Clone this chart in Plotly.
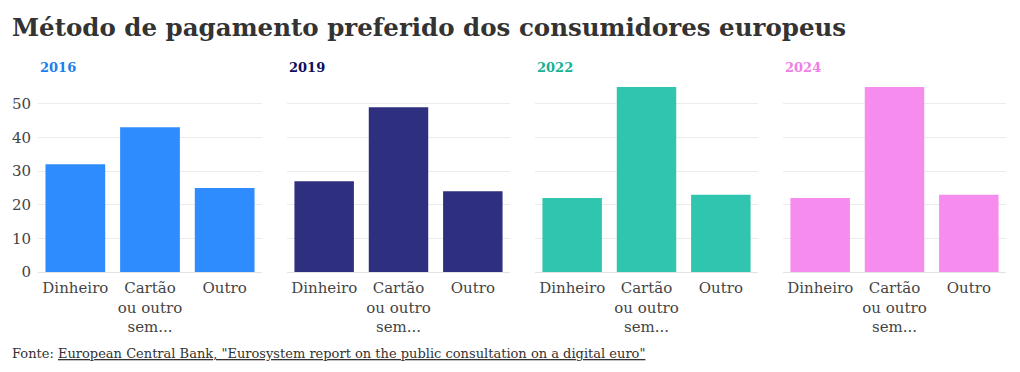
import plotly.graph_objects as go

categories = ["Dinheiro", "Cartão<br>ou outro<br>sem...", "Outro"]
years = ["2016", "2019", "2022", "2024"]
values_2016 = [32, 43, 25]
values_2019 = [27, 49, 24]
values_2022 = [22, 55, 23]
values_2024 = [22, 55, 23]
series = [values_2016, values_2019, values_2022, values_2024]
bar_colors = ["#2f8cff", "#2f2f80", "#2fc5ae", "#f58cee"]
title_colors = ["#1a7fef", "#0d0d5c", "#16b294", "#f07ee6"]
y_ticks = [0, 10, 20, 30, 40, 50]

FONT = "DejaVu Serif"
OX, OY = 8, 8  # page body margin offset
W, H = 1020, 372
domains_px = [(38, 262), (287, 510), (535, 758), (783, 1006)]
plot_top, plot_bottom = 87, 272


def px_x(v):
    return (v - OX) / W


def px_y(v):
    return 1 - (v - OY) / H


fig = go.Figure()
layout_axes = {}
for i, (yr, vals) in enumerate(zip(years, series)):
    n = "" if i == 0 else str(i + 1)
    fig.add_trace(go.Bar(
        x=categories, y=vals, marker=dict(color=bar_colors[i], line=dict(width=0)),
        xaxis="x" + n, yaxis="y" + n, showlegend=False,
    ))
    d0, d1 = domains_px[i]
    layout_axes["xaxis" + n] = dict(
        domain=[px_x(d0), px_x(d1)], anchor="y" + n, showgrid=False,
        tickfont=dict(family=FONT, size=15, color="#444"), ticks="",
        ticklabelstandoff=5,
        showline=False, fixedrange=True, automargin=False,
    )
    layout_axes["yaxis" + n] = dict(
        anchor="x" + n, range=[0, 55], tickvals=y_ticks,
        domain=[px_y(plot_bottom), px_y(plot_top)],
        showticklabels=(i == 0), gridcolor="#ececec", gridwidth=1,
        zeroline=True, zerolinecolor="#e3e3e3", zerolinewidth=1,
        tickfont=dict(family=FONT, size=15, color="#444"), fixedrange=True,
        ticklabelstandoff=6,
        automargin=False,
    )
    fig.add_annotation(
        text="<b>" + yr + "</b>", x=px_x(d0), y=px_y(68), xref="paper", yref="paper",
        xanchor="left", yanchor="middle", showarrow=False,
        font=dict(family=FONT, size=13, color=title_colors[i]),
    )

fig.update_layout(
    **layout_axes,
    template="none",
    width=W, height=H, bargap=0.2,
    margin=dict(l=0, r=0, t=0, b=0, autoexpand=False),
    paper_bgcolor="white", plot_bgcolor="white",
)
fig.add_annotation(
    text="<b>Método de pagamento preferido dos consumidores europeus</b>",
    x=px_x(10), y=px_y(28), xref="paper", yref="paper", xanchor="left", yanchor="middle",
    showarrow=False, font=dict(family=FONT, size=24.5, color="#333"),
)
fig.add_annotation(
    text='Fonte: <u>European Central Bank, "Eurosystem report on the public consultation on a digital euro"</u>',
    x=px_x(10), y=px_y(353), xref="paper", yref="paper", xanchor="left", yanchor="middle",
    showarrow=False, font=dict(family=FONT, size=13, color="#333"),
)
fig.write_html("out.html")
